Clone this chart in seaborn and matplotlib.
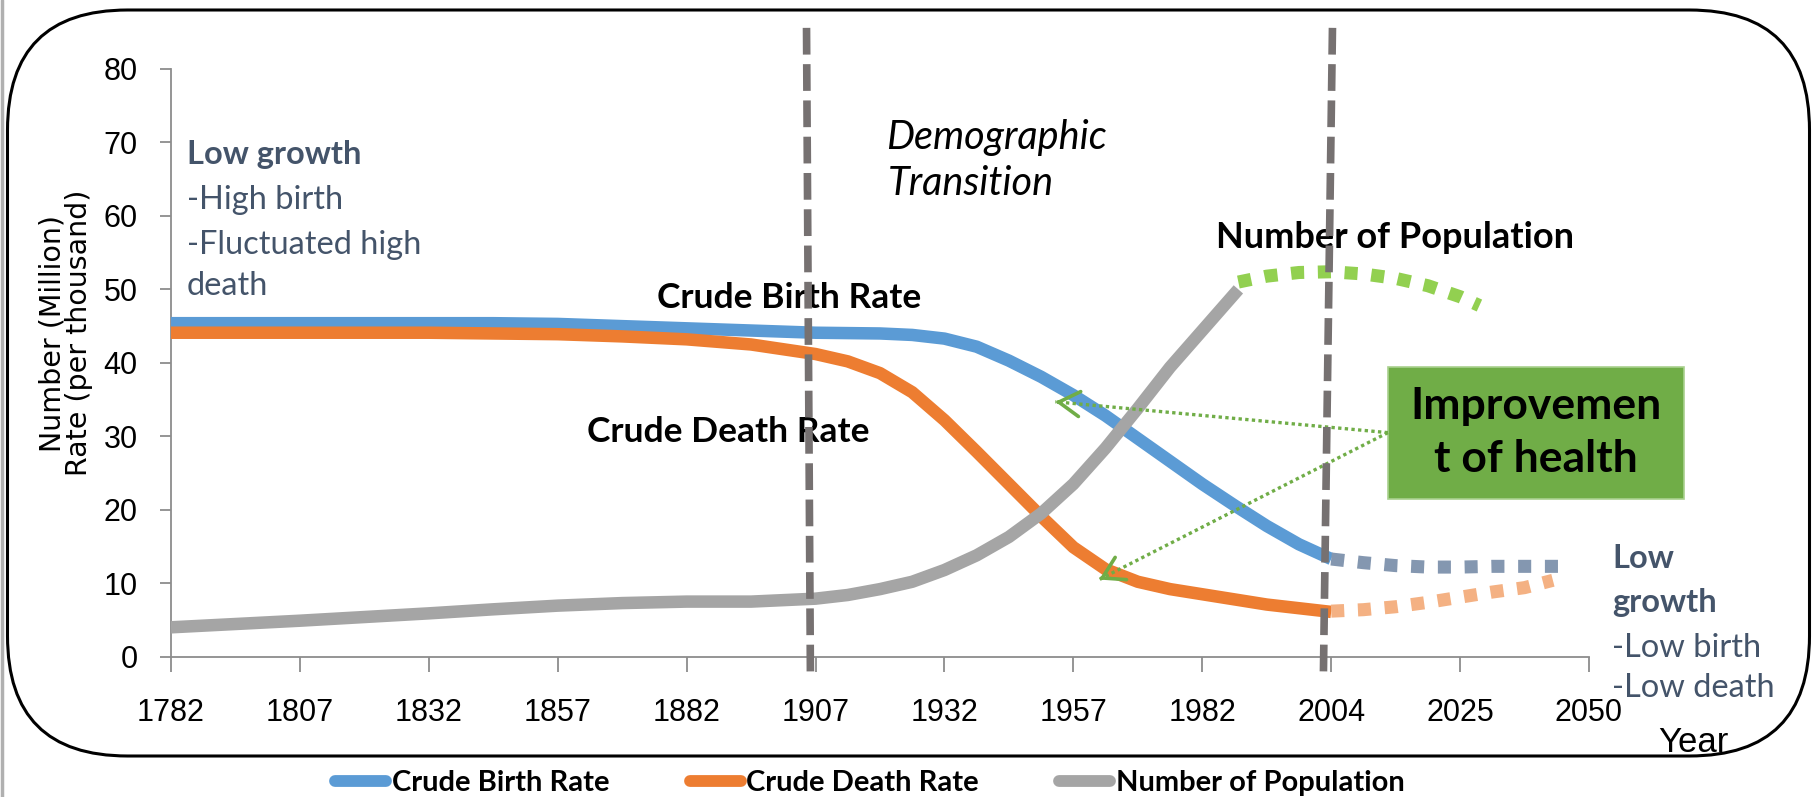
import matplotlib
matplotlib.use("Agg")
import matplotlib.pyplot as plt
import seaborn as sns
import pandas as pd
from matplotlib.patches import FancyBboxPatch, Rectangle
from matplotlib.lines import Line2D

# ---------------- data ----------------
years = ["1782", "1807", "1832", "1857", "1882", "1907", "1932",
         "1957", "1982", "2004", "2025", "2050"]

# positions are category indices on the year axis (0 = 1782 ... 11 = 2050)
birth_pos = [0, 0.5, 1, 1.5, 2, 2.5, 3, 3.5, 4, 4.5, 5, 5.5, 5.75, 6, 6.25,
             6.5, 6.75, 7, 7.25, 7.5, 7.75, 8, 8.25, 8.5, 8.75, 9]
birth_rate = [45.4, 45.4, 45.4, 45.4, 45.4, 45.4, 45.3, 45.0, 44.7, 44.4, 44.1,
              44.0, 43.8, 43.3, 42.2, 40.3, 38.1, 35.6, 32.8, 29.7, 26.6, 23.5,
              20.6, 17.8, 15.3, 13.3]

death_pos = [0, 0.5, 1, 1.5, 2, 2.5, 3, 3.5, 4, 4.5, 5, 5.25, 5.5, 5.75, 6,
             6.25, 6.5, 6.75, 7, 7.25, 7.5, 7.75, 8, 8.5, 9]
death_rate = [44.1, 44.1, 44.1, 44.1, 44.1, 44.0, 43.9, 43.6, 43.2, 42.5, 41.2,
              40.2, 38.6, 36.0, 32.2, 27.9, 23.5, 19.1, 14.9, 11.9, 10.2, 9.2,
              8.5, 7.1, 6.1]

pop_pos = [0, 0.5, 1, 1.5, 2, 2.5, 3, 3.5, 4, 4.5, 5, 5.25, 5.5, 5.75, 6,
           6.25, 6.5, 6.75, 7, 7.25, 7.5, 7.75, 8, 8.28]
population = [4.0, 4.45, 4.9, 5.4, 5.9, 6.45, 6.95, 7.3, 7.5, 7.5, 7.9, 8.4,
              9.2, 10.2, 11.8, 13.8, 16.3, 19.5, 23.5, 28.4, 33.8, 39.4, 44.4,
              50.0]

# hand-drawn projections after the transition
birth_proj_pos = [9, 9.25, 9.5, 9.75, 10, 10.25, 10.5, 10.82]
birth_proj = [13.3, 12.8, 12.4, 12.2, 12.2, 12.3, 12.3, 12.3]
death_proj_pos = [9, 9.25, 9.5, 9.75, 10, 10.25, 10.5, 10.72]
death_proj = [6.2, 6.4, 6.8, 7.4, 8.1, 8.8, 9.4, 10.4]
pop_proj_pos = [8.28, 8.5, 8.75, 9, 9.25, 9.5, 9.75, 10, 10.15]
pop_proj = [51.0, 51.8, 52.3, 52.4, 52.1, 51.5, 50.5, 49.0, 47.8]

series_names = ["Crude Birth Rate", "Crude Death Rate", "Number of Population"]
series_colors = ["#5B9BD5", "#ED7D31", "#A5A5A5"]
proj_names = ["Birth projection", "Death projection", "Population projection"]
proj_colors = ["#8497B0", "#F4B183", "#92D050"]

# ---------------- style ----------------
sns.set_theme(style="white")
plt.rcParams["font.family"] = ["Lato", "DejaVu Sans"]
plt.rcParams["text.color"] = "black"

W, H = 1812, 797
fig = plt.figure(figsize=(W / 100, H / 100), dpi=100)

# background layer (pixel coordinates) for the rounded frame
bg = fig.add_axes([0, 0, 1, 1], zorder=0)
bg.set_xlim(0, W)
bg.set_ylim(H, 0)
bg.axis("off")
bg.add_patch(FancyBboxPatch((7.5, 10), 1802, 746,
                            boxstyle="round,pad=0,rounding_size=120",
                            fill=False, ec="black", lw=2.2))
bg.plot([1.5, 1.5], [0, H], color="#B0B0B0", lw=2.5)

ax = fig.add_axes([171 / W, 1 - 656.7 / H, (1589 - 171) / W, (656.7 - 69) / H],
                  zorder=1)
ax.patch.set_alpha(0)

main = pd.concat([
    pd.DataFrame({"pos": birth_pos, "value": birth_rate, "series": series_names[0]}),
    pd.DataFrame({"pos": death_pos, "value": death_rate, "series": series_names[1]}),
    pd.DataFrame({"pos": pop_pos, "value": population, "series": series_names[2]}),
], ignore_index=True)

sns.lineplot(data=main, x="pos", y="value", hue="series", hue_order=series_names,
             palette=dict(zip(series_names, series_colors)), sort=False,
             estimator=None, linewidth=9, legend=False, ax=ax,
             solid_capstyle="butt", solid_joinstyle="round", zorder=3)
n_main = len(ax.lines)

proj = pd.concat([
    pd.DataFrame({"pos": birth_proj_pos, "value": birth_proj, "series": proj_names[0]}),
    pd.DataFrame({"pos": death_proj_pos, "value": death_proj, "series": proj_names[1]}),
    pd.DataFrame({"pos": pop_proj_pos, "value": pop_proj, "series": proj_names[2]}),
], ignore_index=True)
sns.lineplot(data=proj, x="pos", y="value", hue="series", hue_order=proj_names,
             palette=dict(zip(proj_names, proj_colors)), sort=False,
             estimator=None, linewidth=9.4, legend=False, ax=ax, zorder=3)
for ln in ax.lines[n_main:]:
    ln.set_dashes((1.0, 1.05))
    ln.set_dash_capstyle("butt")
    ln.set_clip_on(False)

# vertical dashed phase dividers
divider_x = [(4.93, 4.96), (9.01, 8.94)]
divider_y = (85.6, -2.0)
for xt, xb in divider_x:
    ax.plot([xt, xb], list(divider_y), color="#767171", lw=5.5,
            dashes=(3.5, 1.25), dash_capstyle="butt", clip_on=False, zorder=7)

# axes
ax.set_xlim(0, 11)
ax.set_ylim(0, 80)
ax.set_xticks(range(len(years)))
ax.set_xticklabels(years)
ax.set_yticks(range(0, 81, 10))
ax.set_xlabel("")
ax.set_ylabel("")
for s in ["top", "right"]:
    ax.spines[s].set_visible(False)
for s in ["left", "bottom"]:
    ax.spines[s].set_color("#8C8C8C")
    ax.spines[s].set_linewidth(1.3)
ax.tick_params(axis="x", bottom=True, length=11, width=1.3, color="#8C8C8C",
               pad=19, labelsize=22, direction="out", labelcolor="black")
ax.tick_params(axis="y", left=True, length=8, width=1.3, color="#8C8C8C",
               pad=16, labelsize=22, direction="out", labelcolor="black")
for lbl in ax.get_xticklabels() + ax.get_yticklabels():
    lbl.set_family(["Liberation Sans", "DejaVu Sans"])

fig.text(66 / W, 1 - 333 / H, "Number (Million)\nRate (per thousand)",
         rotation=90, ha="center", va="center", fontsize=20.5,
         family=["DejaVu Sans"], linespacing=0.95, color="black")

ax.text(11.54, -13.0, "Year", fontsize=25, family=["Liberation Sans", "DejaVu Sans"],
        va="baseline", ha="left", clip_on=False)

slate = "#44546A"
left_notes = [("Low growth", 67.1, "bold"), ("-High birth", 60.9, "normal"),
              ("-Fluctuated high", 54.8, "normal"), ("death", 49.3, "normal")]
for txt, yv, wt in left_notes:
    ax.text(0.124, yv, txt, fontsize=23.5, fontweight=wt, color=slate,
            va="baseline", ha="left", zorder=4)

right_notes = [("Low", 12.1, "bold"), ("growth", 6.1, "bold"),
               ("-Low birth", 0.0, "normal"), ("-Low death", -5.5, "normal")]
for txt, yv, wt in right_notes:
    ax.text(11.18, yv, txt, fontsize=23.5, fontweight=wt, color=slate,
            va="baseline", ha="left", clip_on=False, zorder=4)

ax.text(5.55, 69.1, "Demographic", fontsize=28.5, style="italic",
        va="baseline", ha="left", zorder=4)
ax.text(5.56, 62.8, "Transition", fontsize=28.5, style="italic",
        va="baseline", ha="left", zorder=4)
ax.text(3.77, 47.4, "Crude Birth Rate", fontsize=25.5, fontweight="bold",
        va="baseline", ha="left", zorder=4)
ax.text(3.23, 29.2, "Crude Death Rate", fontsize=25.5, fontweight="bold",
        va="baseline", ha="left", zorder=4)
ax.text(8.11, 55.7, "Number of Population", fontsize=26, fontweight="bold",
        va="baseline", ha="left", zorder=4)

# green call-out box
box_x0, box_x1, box_y0, box_y1 = 9.44, 11.74, 21.5, 39.4
ax.add_patch(Rectangle((box_x0, box_y0), box_x1 - box_x0, box_y1 - box_y0,
                       fc="#70AD47", ec="#A9D18E", lw=1.2, clip_on=False, zorder=5))
ax.text((box_x0 + box_x1) / 2, 32.3, "Improvemen", fontsize=32, fontweight="bold",
        ha="center", va="baseline", zorder=6, clip_on=False)
ax.text((box_x0 + box_x1) / 2, 25.2, "t of health", fontsize=32, fontweight="bold",
        ha="center", va="baseline", zorder=6, clip_on=False)

arrow_start = (9.44, 30.5)
arrow_tips = [(6.86, 34.7), (7.2, 10.5)]
for tx, ty in arrow_tips:
    ax.plot([arrow_start[0], tx], [arrow_start[1], ty], color="#70AD47", lw=2.4,
            linestyle=(0, (1, 1)), zorder=6)
    hx = tx + 0.01 * (arrow_start[0] - tx)
    hy = ty + 0.01 * (arrow_start[1] - ty)
    ax.annotate("", xy=(tx, ty), xytext=(hx, hy),
                arrowprops=dict(arrowstyle="->,head_length=0.75,head_width=0.45",
                                color="#70AD47", lw=2.6, shrinkA=0, shrinkB=0,
                                mutation_scale=20),
                zorder=6)

# legend
handles = [Line2D([], [], color=c, lw=8.5, solid_capstyle="round") for c in series_colors]
fig.legend(handles, series_names, loc="center", bbox_to_anchor=(870 / W, 1 - 783 / H),
           ncol=3, frameon=False,
           prop={"family": ["Lato", "DejaVu Sans"], "weight": "bold", "size": 21},
           handlelength=1.75, handletextpad=0.2, columnspacing=2.75)

fig.savefig("out.png", dpi=100)
